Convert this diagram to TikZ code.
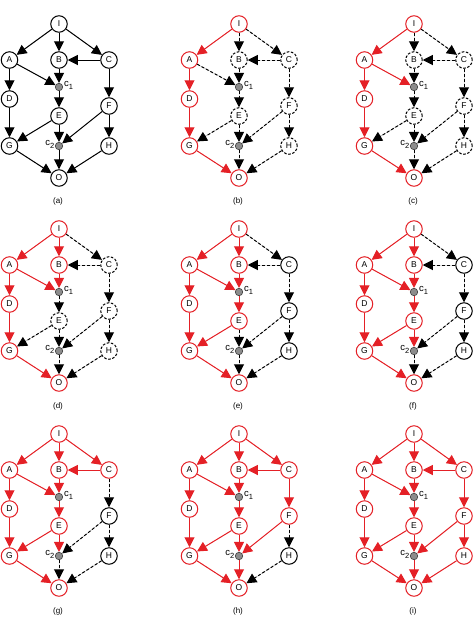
\documentclass[tikz,border=0pt]{standalone}
\usepackage{fontspec}
\setmainfont{Liberation Sans}
\usetikzlibrary{arrows.meta}
\definecolor{myred}{RGB}{228,32,38}
\definecolor{jgray}{RGB}{140,140,140}
\newcommand\nodefont{\fontsize{8.5}{10}\selectfont}
\newcommand\labfont{\fontsize{8}{10}\selectfont}
\newcommand\csub[1]{c\raisebox{-3pt}{\fontsize{7.5}{8}\selectfont #1}}
\tikzset{
  nbase/.style={circle, minimum size=16.5pt, inner sep=0pt, line width=1pt, font=\nodefont, fill=white},
  nblack/.style={nbase, draw=black},
  ndash/.style={nbase, draw=black, dash pattern=on 2.6pt off 1.6pt},
  nred/.style={nbase, draw=myred},
  jnode/.style={circle, fill=jgray, draw=black!75, line width=0.6pt, minimum size=7.5pt, inner sep=0pt},
  ebase/.style={line width=1pt, -{Triangle[length=10pt,width=10pt]}},
  eblack/.style={ebase, draw=black, fill=black},
  edash/.style={ebase, draw=black, fill=black, dash pattern=on 3pt off 2pt},
  ered/.style={ebase, draw=myred, fill=myred},
  clab/.style={font=\fontsize{9.5}{10}\selectfont, inner sep=0pt},
  plab/.style={font=\labfont, inner sep=0pt},
  mkred/.style={#1/.style=nred},
  mkdash/.style={#1/.style=ndash},
  mkered/.style={#1/.style=ered},
  mkedash/.style={#1/.style=edash},
  sI/.style=nblack, sA/.style=nblack, sB/.style=nblack, sC/.style=nblack,
  sD/.style=nblack, sE/.style=nblack, sF/.style=nblack, sG/.style=nblack,
  sH/.style=nblack, sO/.style=nblack,
  eIA/.style=eblack, eIB/.style=eblack, eIC/.style=eblack, eCB/.style=eblack,
  eAc/.style=eblack, eBc/.style=eblack, ecE/.style=eblack, eAD/.style=eblack,
  eDG/.style=eblack, eEG/.style=eblack, eEc/.style=eblack, eFc/.style=eblack,
  ecO/.style=eblack, eCF/.style=eblack, eFH/.style=eblack, eGO/.style=eblack,
  eHO/.style=eblack,
}
\newcommand\drawnet[1]{%
  \node[sI] (I) at (59,24) {I};
  \node[sA] (A) at (9.5,60) {A};
  \node[sB] (B) at (59,60) {B};
  \node[sC] (C) at (109,60) {C};
  \node[jnode] (c1) at (59,87) {};
  \node[sD] (D) at (9.5,99) {D};
  \node[sE] (E) at (59,116) {E};
  \node[sF] (F) at (109,106) {F};
  \node[sG] (G) at (9.5,146) {G};
  \node[jnode] (c2) at (59,146) {};
  \node[sH] (H) at (109,146) {H};
  \node[sO] (O) at (59,178) {O};
  \node[clab, anchor=west] (l1) at (64,85) {\csub{1}};
  \node[clab, anchor=east] (l2) at (54.5,144) {\csub{2}};
  \node[plab] (lab) at (58,201.5) {#1};
  \draw[eIA] (I) -- (A);
  \draw[eIB] (I) -- (B);
  \draw[eIC] (I) -- (C);
  \draw[eCB] (C) -- (B);
  \draw[eAc] (A) -- (c1);
  \draw[eBc] (B) -- (c1);
  \draw[ecE] (c1) -- (E);
  \draw[eAD] (A) -- (D);
  \draw[eDG] (D) -- (G);
  \draw[eEG] (E) -- (G);
  \draw[eEc] (E) -- (c2);
  \draw[eFc] (F) -- (c2);
  \draw[ecO] (c2) -- (O);
  \draw[eCF] (C) -- (F);
  \draw[eFH] (F) -- (H);
  \draw[eGO] (G) -- (O);
  \draw[eHO] (H) -- (O);
}
\begin{document}
\begin{tikzpicture}[x=1pt, y=-1pt]
\useasboundingbox (0,0) rectangle (474,619);
% (a)
\begin{scope}[name prefix=a-]
  \drawnet{(a)}
\end{scope}
% (b)
\begin{scope}[shift={(180,0)}, name prefix=b-,
  mkred/.list={sI,sA,sD,sG,sO}, mkdash/.list={sB,sC,sE,sF,sH},
  mkered/.list={eIA,eAD,eDG,eGO},
  mkedash/.list={eIB,eIC,eCB,eAc,eBc,ecE,eEG,eEc,eFc,ecO,eCF,eFH,eHO}]
  \drawnet{(b)}
\end{scope}
% (c)
\begin{scope}[shift={(355,0)}, name prefix=c-,
  mkred/.list={sI,sA,sD,sG,sO}, mkdash/.list={sB,sC,sE,sF,sH},
  mkered/.list={eIA,eAD,eDG,eGO,eAc},
  mkedash/.list={eIB,eIC,eCB,eBc,ecE,eEG,eEc,eFc,ecO,eCF,eFH,eHO}]
  \drawnet{(c)}
\end{scope}
% (d)
\begin{scope}[shift={(0,205)}, name prefix=d-,
  mkred/.list={sI,sA,sB,sD,sG,sO}, mkdash/.list={sC,sE,sF,sH},
  mkered/.list={eIA,eIB,eAD,eDG,eGO,eAc,eBc},
  mkedash/.list={eIC,eCB,ecE,eEG,eEc,eFc,ecO,eCF,eFH,eHO}]
  \drawnet{(d)}
\end{scope}
% (e)
\begin{scope}[shift={(180,205)}, name prefix=e-,
  mkred/.list={sI,sA,sB,sD,sE,sG,sO},
  mkered/.list={eIA,eIB,eAc,eBc,ecE,eAD,eDG,eEG,eGO},
  mkedash/.list={eIC,eCB,eCF,eFH,eFc,eEc,ecO,eHO}]
  \drawnet{(e)}
\end{scope}
% (f)
\begin{scope}[shift={(355,205)}, name prefix=f-,
  mkred/.list={sI,sA,sB,sD,sE,sG,sO},
  mkered/.list={eIA,eIB,eAc,eBc,ecE,eAD,eDG,eEG,eGO,eEc},
  mkedash/.list={eIC,eCB,eCF,eFH,eFc,ecO,eHO}]
  \drawnet{(f)}
\end{scope}
% (g)
\begin{scope}[shift={(0,410)}, name prefix=g-,
  mkred/.list={sI,sA,sB,sC,sD,sE,sG,sO},
  mkered/.list={eIA,eIB,eIC,eCB,eAc,eBc,ecE,eAD,eDG,eEG,eEc,eGO},
  mkedash/.list={eCF,eFc,eFH,ecO,eHO}]
  \drawnet{(g)}
\end{scope}
% (h)
\begin{scope}[shift={(180,410)}, name prefix=h-,
  mkred/.list={sI,sA,sB,sC,sD,sE,sF,sG,sO},
  mkered/.list={eIA,eIB,eIC,eCB,eAc,eBc,ecE,eAD,eDG,eEG,eEc,eFc,ecO,eCF,eGO},
  mkedash/.list={eFH,eHO}]
  \drawnet{(h)}
\end{scope}
% (i)
\begin{scope}[shift={(355,410)}, name prefix=i-,
  mkred/.list={sI,sA,sB,sC,sD,sE,sF,sG,sH,sO},
  mkered/.list={eIA,eIB,eIC,eCB,eAc,eBc,ecE,eAD,eDG,eEG,eEc,eFc,ecO,eCF,eFH,eGO,eHO}]
  \drawnet{(i)}
\end{scope}
\end{tikzpicture}
\end{document}
